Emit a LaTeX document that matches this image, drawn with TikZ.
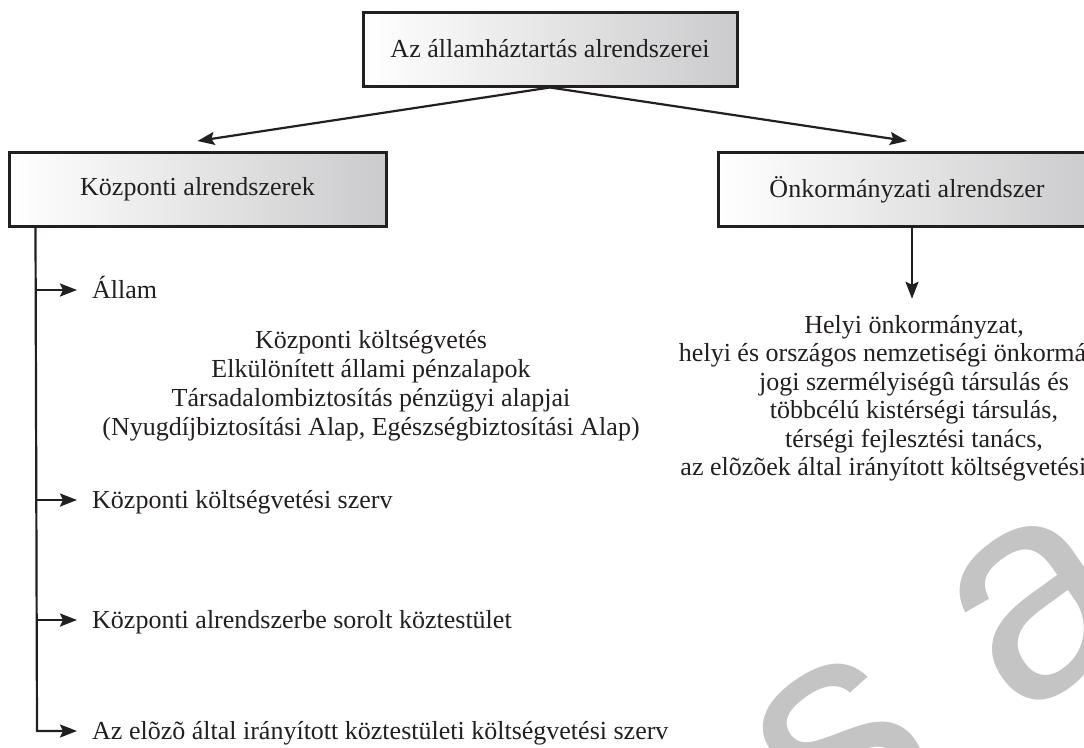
\documentclass[tikz,border=0pt]{standalone}
\usepackage{fontspec}
\setmainfont{Liberation Serif}
\newfontfamily\wmfont{Liberation Sans}
\usetikzlibrary{arrows.meta}

\definecolor{ink}{HTML}{231F20}
\definecolor{boxgray}{HTML}{CBCBCD}
\definecolor{wmgray}{HTML}{C4C4C4}
\newcommand\diagfont{\fontsize{26}{29}\selectfont}

\tikzset{
  box/.style={draw=ink, line width=3pt, left color=white, middle color=black!5,
    right color=boxgray, minimum width=#1, minimum height=74pt, inner sep=0pt,
    text=ink, font=\diagfont},
  txt/.style={text=ink, font=\diagfont, inner sep=0pt},
  conn/.style={draw=ink, line width=2.2pt,
    -{Stealth[length=17pt,width=13pt,inset=3pt]}},
  wm/.style={text=wmgray, font=\wmfont\fontsize{300}{300}\selectfont, inner sep=0pt}
}

\begin{document}
\begin{tikzpicture}[x=1pt,y=-1pt]
  \clip (0,0) rectangle (1084,747);
  \fill[white] (0,0) rectangle (1084,747);

  % background watermark
  \node[wm, rotate=35] (wm) at (945,676) {s a};

  % boxes
  \node[box=374pt] (top)   at (550,49)      {Az államháztartás alrendszerei};
  \node[box=377pt] (left)  at (197.5,189.5) {Központi alrendszerek};
  \node[box=377pt] (right) at (907,189.5)   {Önkormányzati alrendszer};

  \draw[conn] (top.south) -- ([yshift=10pt]left.north);
  \draw[conn] (top.south) -- ([yshift=10pt]right.north);

  % central subsystem: list
  \coordinate (t0) at ([xshift=28pt]left.south west);
  \coordinate (b1) at (37,290);
  \coordinate (b2) at (37,500);
  \coordinate (b3) at (37,620);
  \coordinate (b4) at (37,731);

  \node[txt, anchor=base west] (l1) at (92,298) {Állam};
  \node[txt, anchor=base west] (l2) at (92,508) {Központi költségvetési szerv};
  \node[txt, anchor=base west] (l3) at (92,628) {Központi alrendszerbe sorolt köztestület};
  \node[txt, anchor=base west] (l4) at (92,739) {Az elõzõ által irányított köztestületi költségvetési szerv};

  \draw[conn, line join=miter, shorten >=15pt] (t0) -- (b4) -- (b4 -| l4.west);
  \draw[conn, shorten >=15pt] (b1) -- (b1 -| l1.west);
  \draw[conn, shorten >=15pt] (b2) -- (b2 -| l2.west);
  \draw[conn, shorten >=15pt] (b3) -- (b3 -| l3.west);

  % central budget funds
  \node[txt, anchor=base] (c1) at (371,348) {Központi költségvetés};
  \node[txt, anchor=base] (c2) at (371,377) {Elkülönített állami pénzalapok};
  \node[txt, anchor=base] (c3) at (371,406) {Társadalombiztosítás pénzügyi alapjai};
  \node[txt, anchor=base] (c4) at (371,435) {(Nyugdíjbiztosítási Alap, Egészségbiztosítási Alap)};

  % local government subsystem
  \node[txt, anchor=base] (r1) at (914,333)   {Helyi önkormányzat,};
  \node[txt, anchor=base] (r2) at (914,361.5) {helyi és országos nemzetiségi önkormányzat,};
  \node[txt, anchor=base] (r3) at (914,390)   {jogi szermélyiségû társulás és};
  \node[txt, anchor=base] (r4) at (914,418.5) {többcélú kistérségi társulás,};
  \node[txt, anchor=base] (r5) at (914,447)   {térségi fejlesztési tanács,};
  \node[txt, anchor=base] (r6) at (914,475.5) {az elõzõek által irányított költségvetési szerv};

  \draw[conn] ([xshift=5pt]right.south) -- ([xshift=-2pt,yshift=16pt]r1.north);
\end{tikzpicture}
\end{document}
